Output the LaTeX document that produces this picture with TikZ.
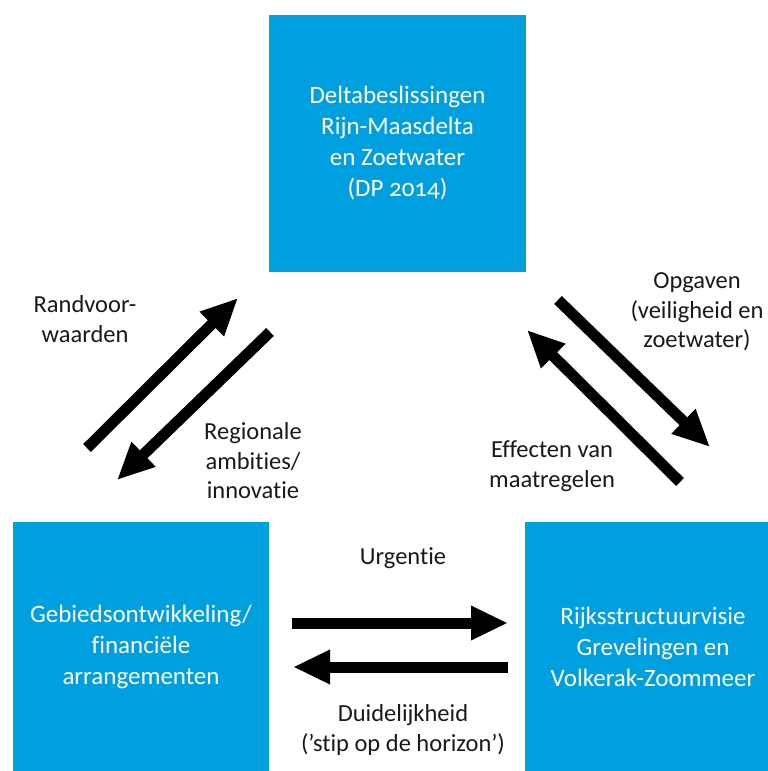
\documentclass[tikz,border=0pt]{standalone}
\usepackage{fontspec}
\setmainfont{Carlito}[Numbers=OldStyle, Ligatures=NoCommon]
\usetikzlibrary{arrows.meta}
\definecolor{rijksblauw}{RGB}{0,160,224}
\definecolor{labelgray}{RGB}{25,25,25}
\tikzset{
  box/.style={fill=rijksblauw, draw=none, text=white, align=center,
    font=\fontsize{25}{31}\selectfont, inner sep=0pt},
  lbl/.style={text=labelgray, align=center, font=\fontsize{24.5}{29.5}\selectfont, inner sep=0pt},
  bigarrow/.style={line width=11pt, draw=black,
    -{Triangle[length=37pt,width=32pt]}, shorten >=0pt}
}
\begin{document}
\begin{tikzpicture}[x=1pt,y=-1pt]
\useasboundingbox (0,0) rectangle (768,771);
% boxes
\node[box, minimum width=257pt, minimum height=257pt] (dp) at (397.5,143.5)
  {Deltabeslissingen\\Rijn-Maasdelta\\en Zoetwater\\(DP 2014)};
\node[box, minimum width=256pt, minimum height=249pt] (gb) at (141,646.5)
  {Gebiedsontwikkeling/\\financiële\\arrangementen};
\node[box, minimum width=256pt, minimum height=249pt] (rs) at (653,646.5)
  {Rijksstructuurvisie\\Grevelingen en\\Volkerak-Zoommeer};
% arrow end points
\coordinate (a1s) at (87,448);  \coordinate (a1e) at (238,298);
\coordinate (a2s) at (270,332); \coordinate (a2e) at (117,480);
\coordinate (a3s) at (558,300); \coordinate (a3e) at (710,447);
\coordinate (a4s) at (680,482); \coordinate (a4e) at (527,330);
\coordinate (a5s) at (292,623); \coordinate (a5e) at (508,623);
\coordinate (a6s) at (508,667); \coordinate (a6e) at (293,667);
\draw[bigarrow] (a1s) -- (a1e);
\draw[bigarrow] (a2s) -- (a2e);
\draw[bigarrow] (a3s) -- (a3e);
\draw[bigarrow] (a4s) -- (a4e);
\draw[bigarrow] (a5s) -- (a5e);
\draw[bigarrow] (a6s) -- (a6e);
% labels
\node[lbl] (l1) at (85,319) {Randvoor-\\waarden};
\node[lbl] (l2) at (253,461) {Regionale\\ambities/\\innovatie};
\node[lbl] (l3) at (697,312) {Opgaven\\(veiligheid en\\zoetwater)};
\node[lbl] (l4) at (552,466) {Effecten van\\maatregelen};
\node[lbl] (l5) at (403,558) {Urgentie};
\node[lbl] (l6) at (403,730) {Duidelijkheid\\(’stip op de horizon’)};
\end{tikzpicture}
\end{document}
